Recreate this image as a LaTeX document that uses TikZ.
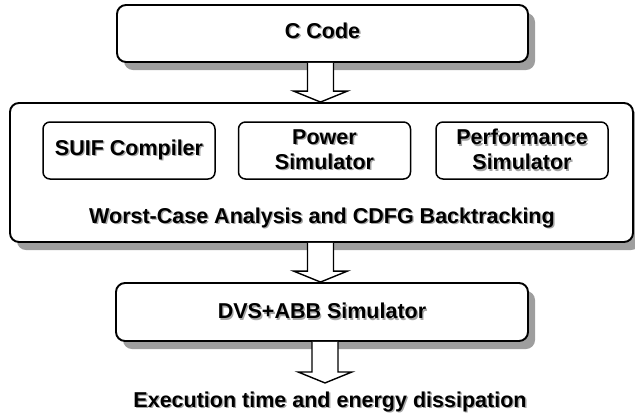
\documentclass[tikz,border=0pt]{standalone}
\usepackage{fontspec}
\setmainfont{Liberation Sans}
\usetikzlibrary{calc,shadows}
\newcommand\shtxt[1]{\makebox[0pt][l]{\hspace{1.4pt}\raisebox{-1.4pt}{\textcolor{black!35}{#1}}}#1}
\tikzset{
 txt/.style={font=\bfseries\fontsize{21.5}{25}\selectfont, align=center, inner sep=0pt},
 boxshadow/.style={drop shadow={shadow xshift=7pt, shadow yshift=-8pt, fill=black!38, opacity=1}},
 outerbox/.style={txt, draw, line width=1.9pt, rounded corners=9pt, fill=white, boxshadow},
 innerbox/.style={txt, draw, line width=1.5pt, rounded corners=7pt, fill=white, minimum width=172pt, minimum height=57pt},
 fatarrow/.style={draw, line width=1.4pt, fill=white, line join=miter},
}
\newcommand\fatarr[3]{\draw[fatarrow] let \p1=(#1), \p2=(#2) in
  (\x1+#3-13pt,\y1) -- (\x1+#3-13pt,\y2+11pt) -- (\x1+#3-27pt,\y2+11pt) -- (\x1+#3,\y2)
  -- (\x1+#3+27pt,\y2+11pt) -- (\x1+#3+13pt,\y2+11pt) -- (\x1+#3+13pt,\y1);}
\begin{document}
\begin{tikzpicture}[x=1pt,y=-1pt]
\useasboundingbox (0,0) rectangle (635,416);
\node[outerbox, minimum width=411pt, minimum height=57pt, text depth=6pt] (code) at (322.5,33.5) {\shtxt{C Code}};
\node[outerbox, minimum width=623pt, minimum height=139pt] (main) at (321.5,172.5) {};
\node[innerbox] (suif) at (129,150.5) {\shtxt{SUIF Compiler}};
\node[innerbox] (power) at (324.5,150.5) {\shtxt{Power}\\\shtxt{Simulator}};
\node[innerbox] (perf) at (522,150.5) {\shtxt{Performance}\\\shtxt{Simulator}};
\node[txt, anchor=base] (wca) at (322,223) {\shtxt{Worst-Case Analysis and CDFG Backtracking}};
\node[outerbox, minimum width=412pt, minimum height=58pt] (dvs) at (322,312) {\shtxt{DVS+ABB Simulator}};
\node[txt, anchor=base] (exec) at (330,407) {\shtxt{Execution time and energy dissipation}};
\coordinate (outtip) at ($(dvs.south)+(3,41)$);
\fatarr{code.south}{main.north}{-2pt}
\fatarr{main.south}{dvs.north}{-1pt}
\fatarr{dvs.south}{outtip}{3pt}
\end{tikzpicture}
\end{document}
